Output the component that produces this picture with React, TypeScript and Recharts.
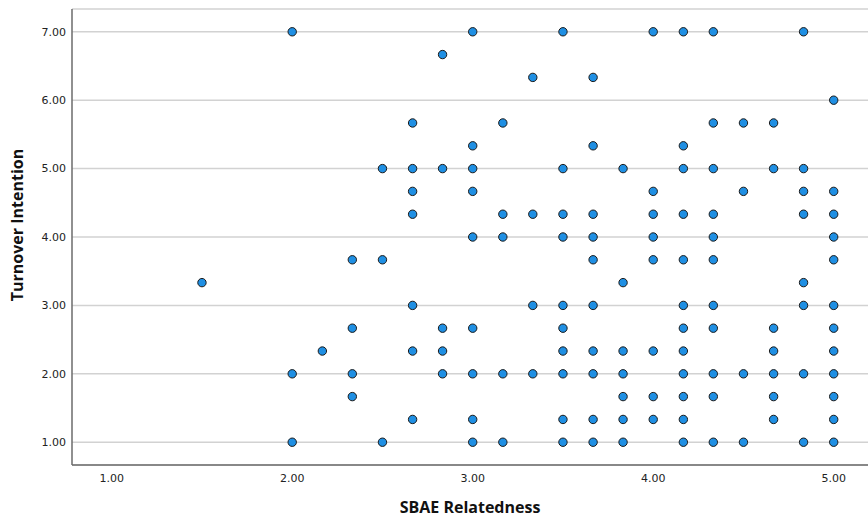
import { ScatterChart, Scatter, XAxis, YAxis, CartesianGrid } from 'recharts';

// SBAE relatedness (x) and turnover intention (y), one entry per respondent
const sbaeRelatedness = [
  2.0, 3.0, 3.5, 4.0, 4.167, 4.333, 4.833,
  2.833,
  3.333, 3.667,
  5.0,
  2.667, 3.167, 4.333, 4.5, 4.667,
  3.0, 3.667, 4.167,
  2.5, 2.667, 2.833, 3.0, 3.5, 3.833, 4.167, 4.333, 4.667, 4.833,
  2.667, 3.0, 4.0, 4.5, 4.833, 5.0,
  2.667, 3.167, 3.333, 3.5, 3.667, 4.0, 4.167, 4.333, 4.833, 5.0,
  3.0, 3.167, 3.5, 3.667, 4.0, 4.333, 5.0,
  2.333, 2.5, 3.667, 4.0, 4.167, 4.333, 5.0,
  1.5, 3.833, 4.833,
  2.667, 3.333, 3.5, 3.667, 4.167, 4.333, 4.833, 5.0,
  2.333, 2.833, 3.0, 3.5, 4.167, 4.333, 4.667, 5.0,
  2.167, 2.667, 2.833, 3.5, 3.667, 3.833, 4.0, 4.167, 4.667, 5.0,
  2.0, 2.333, 2.833, 3.0, 3.167, 3.333, 3.5, 3.667, 3.833, 4.167, 4.333, 4.5, 4.667, 4.833, 5.0,
  2.333, 3.833, 4.0, 4.167, 4.333, 4.667, 5.0,
  2.667, 3.0, 3.5, 3.667, 3.833, 4.0, 4.167, 4.667, 5.0,
  2.0, 2.5, 3.0, 3.167, 3.5, 3.667, 3.833, 4.167, 4.333, 4.5, 4.833, 5.0,
];

const turnoverIntention = [
  7, 7, 7, 7, 7, 7, 7,
  6.667,
  6.333, 6.333,
  6,
  5.667, 5.667, 5.667, 5.667, 5.667,
  5.333, 5.333, 5.333,
  5, 5, 5, 5, 5, 5, 5, 5, 5, 5,
  4.667, 4.667, 4.667, 4.667, 4.667, 4.667,
  4.333, 4.333, 4.333, 4.333, 4.333, 4.333, 4.333, 4.333, 4.333, 4.333,
  4, 4, 4, 4, 4, 4, 4,
  3.667, 3.667, 3.667, 3.667, 3.667, 3.667, 3.667,
  3.333, 3.333, 3.333,
  3, 3, 3, 3, 3, 3, 3, 3,
  2.667, 2.667, 2.667, 2.667, 2.667, 2.667, 2.667, 2.667,
  2.333, 2.333, 2.333, 2.333, 2.333, 2.333, 2.333, 2.333, 2.333, 2.333,
  2, 2, 2, 2, 2, 2, 2, 2, 2, 2, 2, 2, 2, 2, 2,
  1.667, 1.667, 1.667, 1.667, 1.667, 1.667, 1.667,
  1.333, 1.333, 1.333, 1.333, 1.333, 1.333, 1.333, 1.333, 1.333,
  1, 1, 1, 1, 1, 1, 1, 1, 1, 1, 1, 1,
];

const xTicks = [1, 2, 3, 4, 5];
const yTicks = [1, 2, 3, 4, 5, 6, 7];

const points = sbaeRelatedness.map((x, i) => ({ x, y: turnoverIntention[i] }));

const tickStyle = { fontFamily: 'DejaVu Sans', fontSize: 11, fill: '#222' };
const titleStyle = { fontFamily: 'Open Sans', fontWeight: 700, fontSize: 16, fill: '#111' };

const Dot = (props: any) => (
  <circle cx={props.cx} cy={props.cy} r={4.2} fill="#1f8fe3" stroke="#1a1a1a" strokeWidth={1} />
);

export default function App() {
  return (
    <div style={{ position: 'absolute', left: 0, top: 0, width: 868, height: 517, background: '#fff' }}>
      <ScatterChart width={868} height={517} margin={{ top: 9, right: 0, bottom: 0, left: 0 }}>
        <CartesianGrid vertical={false} stroke="#d2d2d2" strokeWidth={1.5} />
        <XAxis
          type="number"
          dataKey="x"
          domain={[0.78, 5.19]}
          allowDataOverflow
          ticks={xTicks}
          tickFormatter={(v: number) => v.toFixed(2)}
          tick={tickStyle}
          tickLine={false}
          tickSize={6}
          tickMargin={3}
          height={52}
          axisLine={{ stroke: '#6b6b6b', strokeWidth: 1.5 }}
          label={{ value: 'SBAE Relatedness', position: 'insideBottom', offset: 4, style: titleStyle }}
        />
        <YAxis
          type="number"
          dataKey="y"
          domain={[0.667, 7.333]}
          allowDataOverflow
          ticks={yTicks}
          tickFormatter={(v: number) => v.toFixed(2)}
          tick={tickStyle}
          tickLine={false}
          tickSize={4}
          tickMargin={2}
          width={72}
          axisLine={{ stroke: '#6b6b6b', strokeWidth: 1.5 }}
          label={{
            content: () => (
              <text x={23} y={225} transform="rotate(-90 23 225)" textAnchor="middle" style={titleStyle}>
                Turnover Intention
              </text>
            ),
          }}
        />
        <Scatter data={points} shape={<Dot />} isAnimationActive={false} />
      </ScatterChart>
    </div>
  );
}
